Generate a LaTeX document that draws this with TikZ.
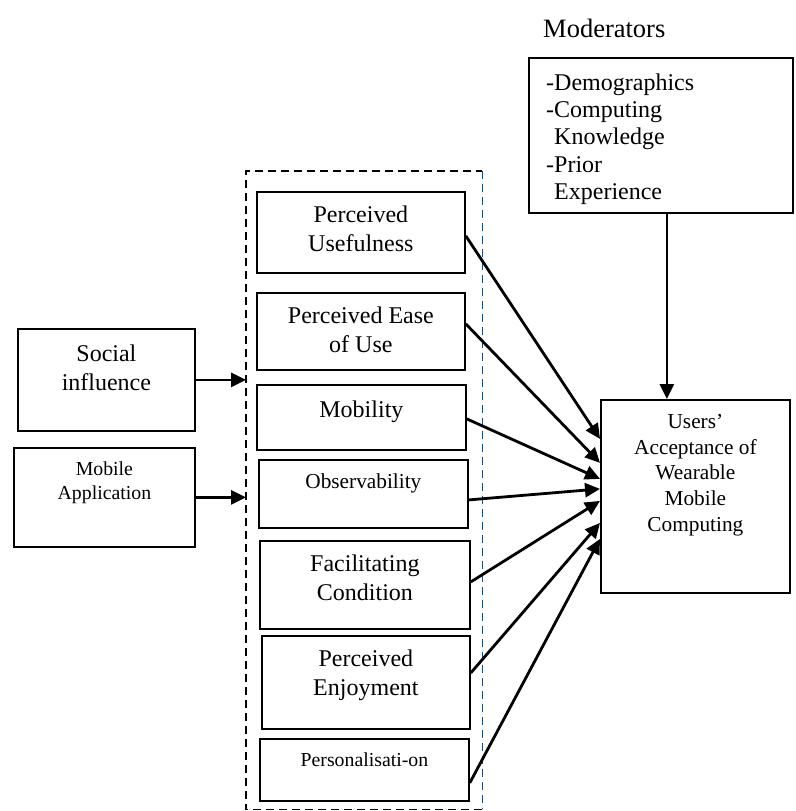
\documentclass[tikz,border=0pt]{standalone}
\usepackage{fontspec}
\setmainfont{Liberation Serif}
\usepackage{tikz}
\usetikzlibrary{arrows.meta}

\definecolor{frameblue}{RGB}{31,78,121}
\newcommand{\bigfont}{\fontsize{24}{28.8}\selectfont}
\newcommand{\midfont}{\fontsize{21.3}{25.8}\selectfont}
\newcommand{\smallfont}{\fontsize{19.8}{23.5}\selectfont}
\newcommand{\modfont}{\fontsize{24}{27.2}\selectfont}

\tikzset{
    box/.style={draw, line width=1.8pt, anchor=north west, inner sep=0pt},
    inlabel/.style={anchor=north, yshift=-15pt, inner sep=0pt, align=center},
    frame/.style={line width=1.2pt, dash pattern=on 8pt off 5pt},
    arrow/.style={line width=2.8pt, -{Triangle[length=15pt,width=14pt]}}
}

\begin{document}
\begin{tikzpicture}[x=1pt, y=-1pt]
\useasboundingbox (0,0) rectangle (795,811);

% left inputs
\node[box, minimum width=177pt, minimum height=102pt,
    label={[inlabel, yshift=-1.5pt, font=\bigfont]north:Social\\influence}] (social) at (17,328) {};
\node[box, minimum width=181pt, minimum height=99pt,
    label={[inlabel, font=\smallfont]north:Mobile\\Application}] (mobapp) at (13,447) {};

% dashed group of factors
\node[anchor=north west, inner sep=0pt, minimum width=236pt, minimum height=638pt] (group) at (246,171) {};
\draw[frame] (group.south east) -- (group.south west) -- (group.north west) -- (group.north east);
\draw[frame, draw=frameblue] (group.north east) -- (group.south east);

\node[box, minimum width=208pt, minimum height=81pt,
    label={[inlabel, font=\bigfont]north:Perceived\\Usefulness}] (useful) at (256,191) {};
\node[box, minimum width=208pt, minimum height=77pt,
    label={[inlabel, font=\bigfont]north:Perceived Ease\\of Use}] (ease) at (256,292) {};
\node[box, minimum width=209pt, minimum height=65pt,
    label={[inlabel, yshift=-1.5pt, font=\bigfont]north:Mobility}] (mobility) at (256,384) {};
\node[box, minimum width=209pt, minimum height=68pt,
    label={[inlabel, font=\midfont]north:Observability}] (observ) at (258,459) {};
\node[box, minimum width=210pt, minimum height=88pt,
    label={[inlabel, font=\bigfont]north:Facilitating\\Condition}] (facil) at (259,540) {};
\node[box, minimum width=208pt, minimum height=93pt,
    label={[inlabel, font=\bigfont]north:Perceived\\Enjoyment}] (enjoy) at (261,635) {};
\node[box, minimum width=209pt, minimum height=62pt,
    label={[inlabel, font=\smallfont]north:Personalisati-on}] (person) at (259,738) {};

% moderators
\node[anchor=base west, inner sep=0pt, font=\fontsize{26.5}{30}\selectfont] (modtitle) at (543,37) {Moderators};
\node[box, minimum width=264pt, minimum height=155pt,
    label={[anchor=north west, xshift=18pt, yshift=-16.6pt, inner sep=0pt, align=left, font=\modfont]north west:-Demographics\\-Computing\\\hphantom{-}Knowledge\\-Prior\\\hphantom{-}Experience}] (moder) at (528,57) {};

% outcome
\node[box, minimum width=189pt, minimum height=193pt,
    label={[inlabel, font=\midfont, align=center]north:Users'\\Acceptance of\\Wearable\\Mobile\\Computing}] (users) at (600,399) {};

% connectors
\draw[arrow] (social.east) -- (social.east -| group.west);
\draw[arrow] (mobapp.east) -- (mobapp.east -| group.west);

\draw[arrow] ([yshift=-3.5pt]useful.east) -- ([yshift=57.5pt]users.west);
\draw[arrow] ([yshift=7.5pt]ease.east) -- ([yshift=33.5pt]users.west);
\draw[arrow] ([yshift=-1.5pt]mobility.east) -- ([yshift=17.5pt]users.west);
\draw[arrow] ([yshift=-6pt]observ.east) -- ([yshift=7.5pt]users.west);
\draw[arrow] ([yshift=3pt]facil.east) -- ([yshift=-4.5pt]users.west);
\draw[arrow] ([yshift=9.5pt]enjoy.east) -- ([yshift=-26.5pt]users.west);
\draw[arrow] ([yshift=-13pt]person.east) -- ([yshift=-42.5pt]users.west);

\draw[arrow] ([xshift=6pt]moder.south) -- ([xshift=6pt]moder.south |- users.north);

\end{tikzpicture}
\end{document}
